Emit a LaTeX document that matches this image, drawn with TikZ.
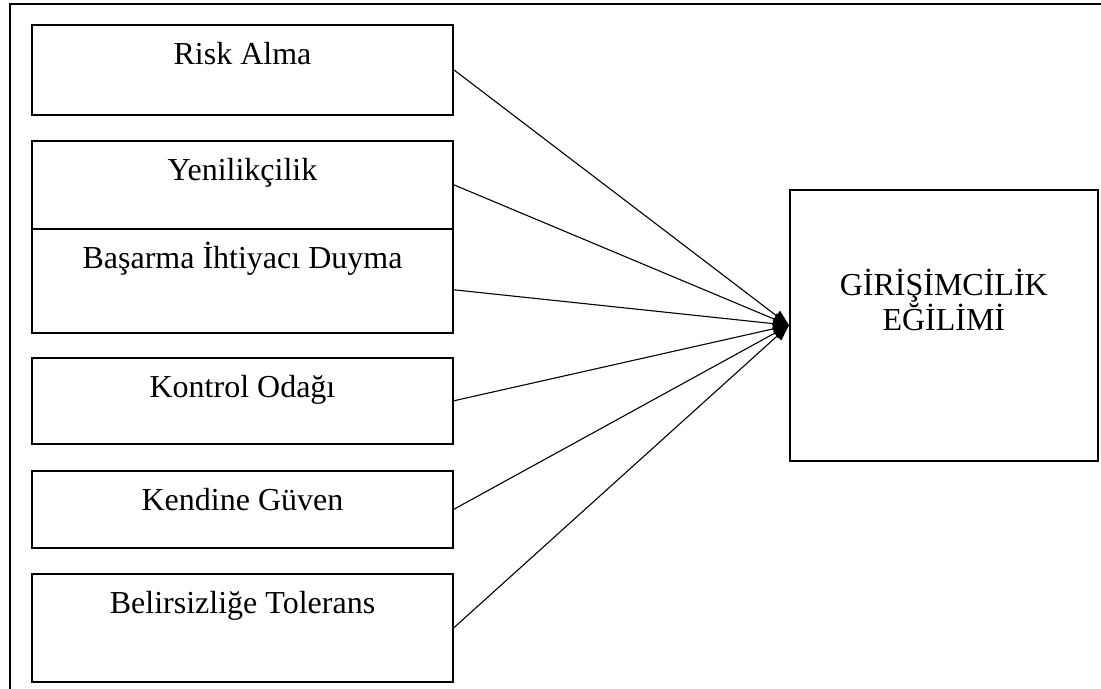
\documentclass[tikz,border=0pt]{standalone}
\usepackage{fontspec}
\setmainfont{Liberation Serif}
\usetikzlibrary{arrows.meta}

\begin{document}
\begin{tikzpicture}[x=0.5pt,y=-0.5pt,
  every node/.style={font=\fontsize{16}{17.5}\selectfont},
  factor/.style={draw, line width=0.8pt, anchor=north, inner sep=0pt, minimum width=210.5pt, text height=20pt, text depth=#1},
  goal/.style={draw, line width=0.8pt, anchor=north west, inner sep=0pt, minimum width=154pt, minimum height=135.5pt},
  link/.style={line width=0.55pt, -{Triangle[length=8pt,width=6pt]}}]
\useasboundingbox (0,0) rectangle (1101,689);
% frame
\draw [line width=0.8pt] (10,689) -- (10,4) -- (1101,4);
% factors
\node [factor=25pt] (risk) at (242.5,24) {Risk Alma};
\node [factor=24pt] (yenilik) at (242.5,140) {Yenilikçilik};
\node [factor=32pt] (basarma) at (242.5,228) {Başarma İhtiyacı Duyma};
\node [factor=23pt] (kontrol) at (242.5,357) {Kontrol Odağı};
\node [factor=18.5pt] (guven) at (242.5,470) {Kendine Güven};
\node [factor=34pt] (belirsiz) at (242.5,573) {Belirsizliğe Tolerans};
% outcome
\node [goal, label={[anchor=north, align=center, inner sep=0pt, yshift=-40pt]north:{GİRİŞİMCİLİK\\EĞİLİMİ}}] (egilim) at (789,189) {};
% links
\draw [link] (risk.east) -- (egilim.west);
\draw [link] (yenilik.east) -- (egilim.west);
\draw [link] ([yshift=-4.5pt]basarma.east) -- (egilim.west);
\draw [link] (kontrol.east) -- (egilim.west);
\draw [link] (guven.east) -- (egilim.west);
\draw [link] (belirsiz.east) -- (egilim.west);
\end{tikzpicture}
\end{document}
